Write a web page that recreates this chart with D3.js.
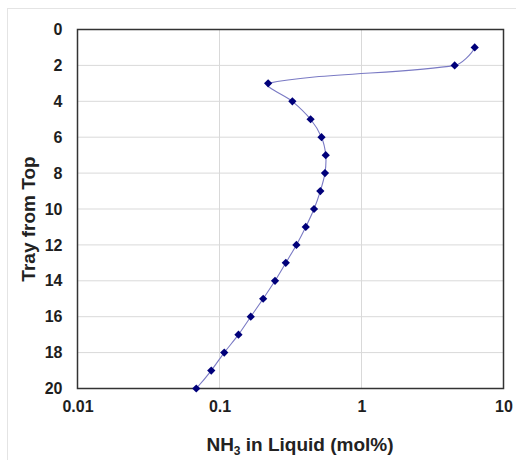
<!DOCTYPE html>
<html><head><meta charset="utf-8">
<script src="https://cdn.jsdelivr.net/npm/d3@7/dist/d3.min.js"></script>
<style>
html,body{margin:0;padding:0;background:#fff;}
svg{display:block;font-family:"Liberation Sans",Arial,sans-serif;}
</style></head>
<body>
<svg id="chart" width="516" height="460"></svg>
<script>
const trays = [1,2,3,4,5,6,7,8,9,10,11,12,13,14,15,16,17,18,19,20];
const nh3 = [6.27,4.53,0.22,0.326,0.438,0.523,0.56,0.553,0.513,0.463,0.405,0.348,0.293,0.246,0.203,0.166,0.136,0.108,0.0875,0.0686];
const xTicks = [0.01,0.1,1,10];
const xTickLabels = ["0.01","0.1","1","10"];
const yTicks = [0,2,4,6,8,10,12,14,16,18,20];

const svg = d3.select("#chart");
const m = {left:77.5, right:503.5, top:29.5, bottom:388.5};

// faint outer frame
svg.append("line").attr("x1",7.5).attr("x2",7.5).attr("y1",8).attr("y2",460).attr("stroke","#e4e4e4");
svg.append("line").attr("x1",7.5).attr("x2",516).attr("y1",8.5).attr("y2",8.5).attr("stroke","#e4e4e4");

const x = d3.scaleLog().domain([0.01,10]).range([m.left,m.right]);
const y = d3.scaleLinear().domain([0,20]).range([m.top,m.bottom]);

// gridlines
svg.append("g").selectAll("line").data(xTicks.slice(1,-1)).join("line")
  .attr("x1",d=>x(d)).attr("x2",d=>x(d)).attr("y1",m.top).attr("y2",m.bottom)
  .attr("stroke","#d9d9d9").attr("stroke-width",1);
svg.append("g").selectAll("line").data(yTicks.slice(1,-1)).join("line")
  .attr("x1",m.left).attr("x2",m.right).attr("y1",d=>y(d)).attr("y2",d=>y(d))
  .attr("stroke","#d9d9d9").attr("stroke-width",1);

const xAxis = d3.axisBottom(x).tickValues(xTicks).tickFormat((d,i)=>xTickLabels[i]).tickSize(0).tickPadding(12);
const gx = svg.append("g").attr("transform",`translate(0,${m.bottom})`).call(xAxis);
gx.select(".domain").remove();
gx.selectAll("text").attr("font-size",16).attr("font-weight","bold").attr("fill","#1e1e1e").attr("font-family","Liberation Sans, Arial, sans-serif");

const yAxis = d3.axisLeft(y).tickValues(yTicks).tickSize(0).tickPadding(15);
const gy = svg.append("g").attr("transform",`translate(${m.left},0)`).call(yAxis);
gy.select(".domain").remove();
gy.selectAll("text").attr("font-size",16).attr("font-weight","bold").attr("fill","#1e1e1e").attr("font-family","Liberation Sans, Arial, sans-serif");

// plot border
svg.append("rect").attr("x",m.left).attr("y",m.top).attr("width",m.right-m.left).attr("height",m.bottom-m.top)
  .attr("fill","none").attr("stroke","#333").attr("stroke-width",1.5);

const data = trays.map((t,i)=>({t, v:nh3[i]}));

// Excel-like smoothed line: tangent along neighbours, control length scaled by segment length
function smoothPath(pts, k) {
  const n = pts.length;
  const unit = (dx,dy) => { const L = Math.hypot(dx,dy) || 1; return [dx/L, dy/L]; };
  const tan = pts.map((p,i) => {
    if (i===0 || i===n-1) return null;
    return unit(pts[i+1][0]-pts[i-1][0], pts[i+1][1]-pts[i-1][1]);
  });
  // natural end condition: reflect neighbour tangent about the end chord
  const d0 = unit(pts[1][0]-pts[0][0], pts[1][1]-pts[0][1]);
  tan[0] = unit(2*d0[0]-tan[1][0], 2*d0[1]-tan[1][1]);
  const dn = unit(pts[n-1][0]-pts[n-2][0], pts[n-1][1]-pts[n-2][1]);
  tan[n-1] = unit(2*dn[0]-tan[n-2][0], 2*dn[1]-tan[n-2][1]);
  const p = d3.path();
  p.moveTo(pts[0][0], pts[0][1]);
  for (let i=0;i<n-1;i++){
    const a = pts[i], b = pts[i+1];
    const L = Math.hypot(b[0]-a[0], b[1]-a[1]) * k;
    p.bezierCurveTo(a[0]+tan[i][0]*L, a[1]+tan[i][1]*L,
                    b[0]-tan[i+1][0]*L, b[1]-tan[i+1][1]*L, b[0], b[1]);
  }
  return p.toString();
}
const pts = data.map(d=>[x(d.v), y(d.t)]);
svg.append("path").attr("d",smoothPath(pts, 0.25)).attr("fill","none").attr("stroke","#7a7ac4").attr("stroke-width",1.1);

svg.append("g").selectAll("path").data(data).join("path")
  .attr("d",d3.symbol().type(d3.symbolSquare).size(34))
  .attr("transform",d=>`translate(${x(d.v)},${y(d.t)}) rotate(45)`)
  .attr("fill","#00007a");

// titles
const xt = svg.append("text").attr("x",300).attr("y",451).attr("text-anchor","middle")
  .attr("font-size",19).attr("font-weight","bold").attr("fill","#222");
xt.append("tspan").text("NH");
xt.append("tspan").text("3").attr("font-size",12).attr("dy",4);
xt.append("tspan").text(" in Liquid (mol%)").attr("dy",-4);

svg.append("text").attr("transform",`translate(35,219) rotate(-90)`)
  .attr("text-anchor","middle").attr("font-size",19).attr("font-weight","bold").attr("fill","#222")
  .text("Tray from Top");
</script>
</body></html>
